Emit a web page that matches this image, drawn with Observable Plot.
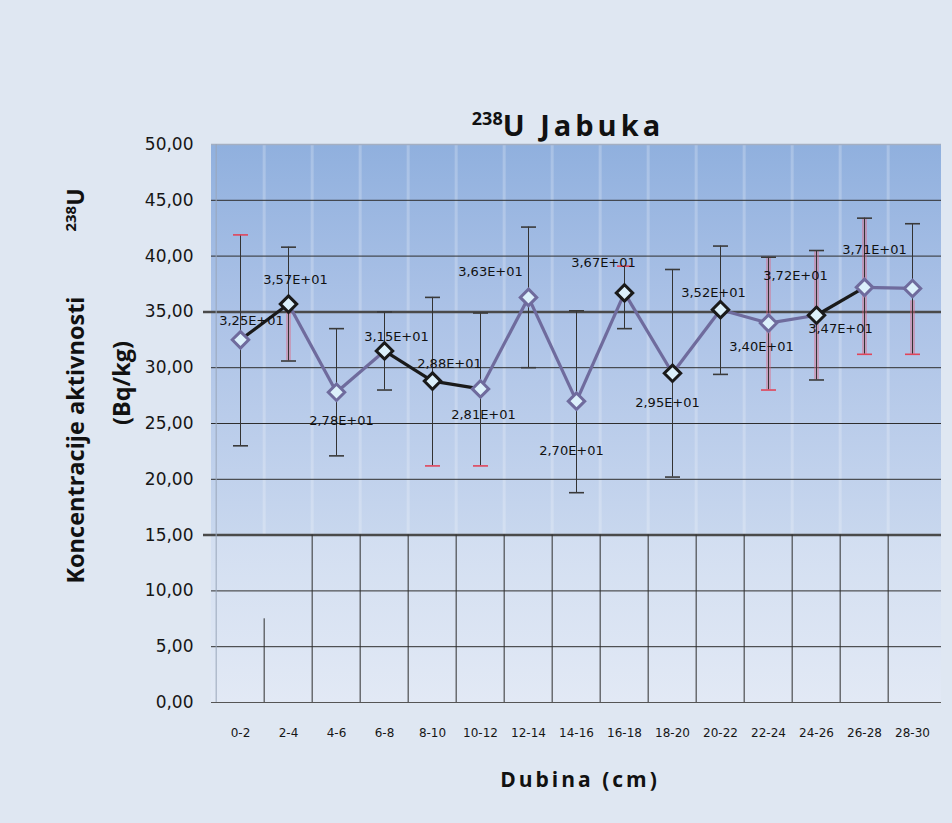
<!DOCTYPE html>
<html><head><meta charset="utf-8">
<script src="https://cdn.jsdelivr.net/npm/d3@7"></script>
<script src="https://cdn.jsdelivr.net/npm/@observablehq/plot@0.6"></script>
<style>
html,body{margin:0;padding:0;background:#dfe7f2;}
#chart{width:952px;height:823px;position:relative;overflow:hidden;}
</style></head><body><div id="chart"></div>
<script>
// ---- data ----
const categories = ["0-2","2-4","4-6","6-8","8-10","10-12","12-14","14-16","16-18","18-20","20-22","22-24","24-26","26-28","28-30"];
const values  = [32.5, 35.7, 27.8, 31.5, 28.8, 28.1, 36.3, 27.0, 36.7, 29.5, 35.2, 34.0, 34.7, 37.2, 37.1];
const errLow  = [23.0, 30.6, 22.1, 28.0, 21.2, 21.2, 30.0, 18.8, 33.5, 20.2, 29.4, 28.0, 28.9, 31.2, 31.2];
const errHigh = [41.9, 40.8, 33.5, 35.0, 36.3, 34.9, 42.6, 35.1, 39.1, 38.8, 40.9, 39.9, 40.5, 43.4, 42.9];
const yTicks = [0, 5, 10, 15, 20, 25, 30, 35, 40, 45, 50];
// style tables
const segStroke    = ["k","p","p","k","k","p","p","p","p","p","p","p","k","p"];      // segment i -> i+1
const markerStroke = ["p","k","p","k","k","p","p","p","k","k","k","p","k","p","p"];
const capHighColor = ["r","k","k","k","k","k","k","k","r","k","k","k","k","k","k"];
const capLowColor  = ["k","k","k","k","r","r","k","k","k","k","k","r","k","r","r"];
const labelDx = [11, 7, 5, 12, 17, 3, -38, -5, -21, -5, -7, -7, 24, -69, -38];
const labelDy = [-19, -24, 29, -14, -17, 26, -26, 50, -30, 30, -17, 24, 14, -12, -39];
const streakCats = ["2-4","22-24","24-26","26-28","28-30"];
const streakLo   = [30.6, 28.0, 28.9, 31.2, 31.2];
const streakHi   = [35.7, 39.9, 40.5, 43.4, 36.0];
const lowerGridTop = [7.5, 15, 15, 15, 15, 15, 15, 15, 15, 15, 15, 15, 15, 15]; // vertical lines below 15

const colors = {k: "#1a1a1a", p: "#6f6b9d", r: "#e0455a", cap: "#3a3a3a"};

const rows = categories.map((c, i) => ({cat: c, v: values[i], lo: errLow[i], hi: errHigh[i], i}));
const segs = rows.slice(0, -1).map((r, i) => ({a: r.cat, av: r.v, b: rows[i+1].cat, bv: rows[i+1].v, s: segStroke[i]}));
const caps = rows.flatMap((r, i) => [
  {cat: r.cat, v: r.hi, c: capHighColor[i] === "r" ? colors.r : colors.cap},
  {cat: r.cat, v: r.lo, c: capLowColor[i] === "r" ? colors.r : colors.cap}
]);
const streaks = streakCats.map((c, i) => ({cat: c, lo: streakLo[i], hi: streakHi[i]}));
const boundaries = categories.slice(1).map((c, i) => ({cat: c, top: lowerGridTop[i]}));

const W = 952, H = 823;
const mL = 211, mR = 11, mT = 144, mB = 121;
const step = (W - mL - mR) / categories.length;
const fmt = v => { const e = Math.floor(Math.log10(v)); const m = v / Math.pow(10, e); return m.toFixed(2).replace(".", ",") + "E+" + String(e).padStart(2, "0"); };
const hcap = {draw(ctx, size) { const w = Math.sqrt(size / Math.PI); ctx.moveTo(-w, 0); ctx.lineTo(w, 0); }};

const defs = () => {
  const d = d3.create("svg:defs");
  const g1 = d.append("linearGradient").attr("id", "gUpper").attr("x1", 0).attr("y1", 0).attr("x2", 0).attr("y2", 1);
  g1.append("stop").attr("offset", "0%").attr("stop-color", "#90b0de");
  g1.append("stop").attr("offset", "45%").attr("stop-color", "#adc3e7");
  g1.append("stop").attr("offset", "100%").attr("stop-color", "#c8d7ee");
  const g2 = d.append("linearGradient").attr("id", "gLower").attr("x1", 0).attr("y1", 0).attr("x2", 0).attr("y2", 1);
  g2.append("stop").attr("offset", "0%").attr("stop-color", "#d2def1");
  g2.append("stop").attr("offset", "100%").attr("stop-color", "#e2e9f5");
  return d.node();
};

const labelMarks = rows.map((r, i) => Plot.text([r], {
  x: "cat", y: "v", text: d => fmt(d.v), dx: labelDx[i], dy: labelDy[i],
  fontSize: 13, fontFamily: "DejaVu Sans", fill: "#111"
}));

const chart = Plot.plot({
  width: W, height: H,
  marginLeft: mL, marginRight: mR, marginTop: mT, marginBottom: mB,
  style: {background: "transparent", overflow: "visible"},
  x: {type: "point", domain: categories, padding: 0.5},
  y: {domain: [0, 50]},
  marks: [
    defs,
    Plot.rect([0], {y1: () => 15, y2: () => 50, fill: "url(#gUpper)"}),
    Plot.rect([0], {y1: () => 0, y2: () => 15, fill: "url(#gLower)"}),
    // faint vertical bands in upper section
    Plot.ruleX(categories.slice(1), {x: d => d, dx: -step / 2, y1: () => 15, y2: () => 50, stroke: "#ffffff", strokeOpacity: 0.22, strokeWidth: 3}),
    // horizontal grid
    Plot.ruleY(yTicks.filter(t => t !== 0 && t !== 15 && t !== 35 && t !== 50), {stroke: "#2e2e2e", strokeWidth: 1}),
    Plot.ruleY([50], {stroke: "#a4afc2", strokeWidth: 1.5}),
    Plot.ruleY([0], {stroke: "#555", strokeWidth: 1}),
    Plot.ruleY([35, 15], {stroke: "#4a4a4a", strokeWidth: 2.5, insetLeft: -8}),
    // vertical lines in the lower section
    Plot.ruleX(boundaries, {x: "cat", dx: -step / 2, y1: () => 0, y2: "top", stroke: "#2e2e2e", strokeWidth: 1}),
    Plot.ruleX([categories[0]], {x: d => d, dx: -step / 2, y1: () => 0, y2: () => 50, stroke: "#9aa6ba", strokeWidth: 1}),
    // red streaks behind error bars
    Plot.ruleX(streaks, {x: "cat", y1: "lo", y2: "hi", stroke: "#e0607a", strokeOpacity: 0.4, strokeWidth: 5}),
    // error bars
    Plot.ruleX(rows, {x: "cat", y1: "lo", y2: "hi", stroke: "#333", strokeWidth: 1}),
    Plot.dot(caps, {x: "cat", y: "v", symbol: hcap, r: 7.5, stroke: "c", strokeWidth: 1.6}),
    // connecting line
    Plot.link(segs.filter(s => s.s === "p"), {x1: "a", y1: "av", x2: "b", y2: "bv", stroke: colors.p, strokeWidth: 3.2}),
    Plot.link(segs.filter(s => s.s === "k"), {x1: "a", y1: "av", x2: "b", y2: "bv", stroke: colors.k, strokeWidth: 3.2}),
    // markers
    Plot.dot(rows, {x: "cat", y: "v", symbol: "diamond2", r: 7.4, fill: "#dcf0fb", stroke: d => colors[markerStroke[d.i]], strokeWidth: 3}),
    ...labelMarks,
    Plot.axisY({ticks: yTicks, tickFormat: d => d.toFixed(2).replace(".", ","), tickSize: 0, tickPadding: 18, fontSize: 17, fontFamily: "DejaVu Sans", fill: "#161616", label: null}),
    Plot.axisX({tickSize: 0, tickPadding: 26, fontSize: 12, fontFamily: "DejaVu Sans", fill: "#161616", label: null})
  ]
});

document.getElementById("chart").appendChild(chart);
const svg = d3.select(chart);

// title
const t = svg.append("text").attr("x", 568).attr("y", 136).attr("text-anchor", "middle")
  .attr("font-family", "Open Sans").attr("font-weight", "bold").attr("fill", "#111");
t.append("tspan").attr("font-size", 18).attr("dy", -11).text("238");
t.append("tspan").attr("font-size", 29).attr("dy", 11).attr("letter-spacing", 4).text("U Jabuka");

// y axis title
const yl = svg.append("g").attr("font-family", "Open Sans").attr("font-weight", "bold").attr("fill", "#111");
yl.append("text").attr("transform", "translate(84,440) rotate(-90)").attr("text-anchor", "middle").attr("font-size", 23.5).text("Koncentracije aktivnosti");
yl.append("text").attr("transform", "translate(130,383) rotate(-90)").attr("text-anchor", "middle").attr("font-size", 23.5).text("(Bq/kg)");
const yu = yl.append("text").attr("transform", "translate(84,210) rotate(-90)").attr("text-anchor", "middle");
yu.append("tspan").attr("font-size", 15).attr("dy", -8).text("238");
yu.append("tspan").attr("font-size", 23).attr("dy", 8).text("U");

// x axis title
svg.append("text").attr("x", 580).attr("y", 787).attr("text-anchor", "middle")
  .attr("font-family", "Open Sans").attr("font-weight", "bold").attr("font-size", 21)
  .attr("letter-spacing", 3).attr("fill", "#111").text("Dubina (cm)");
</script></body></html>
